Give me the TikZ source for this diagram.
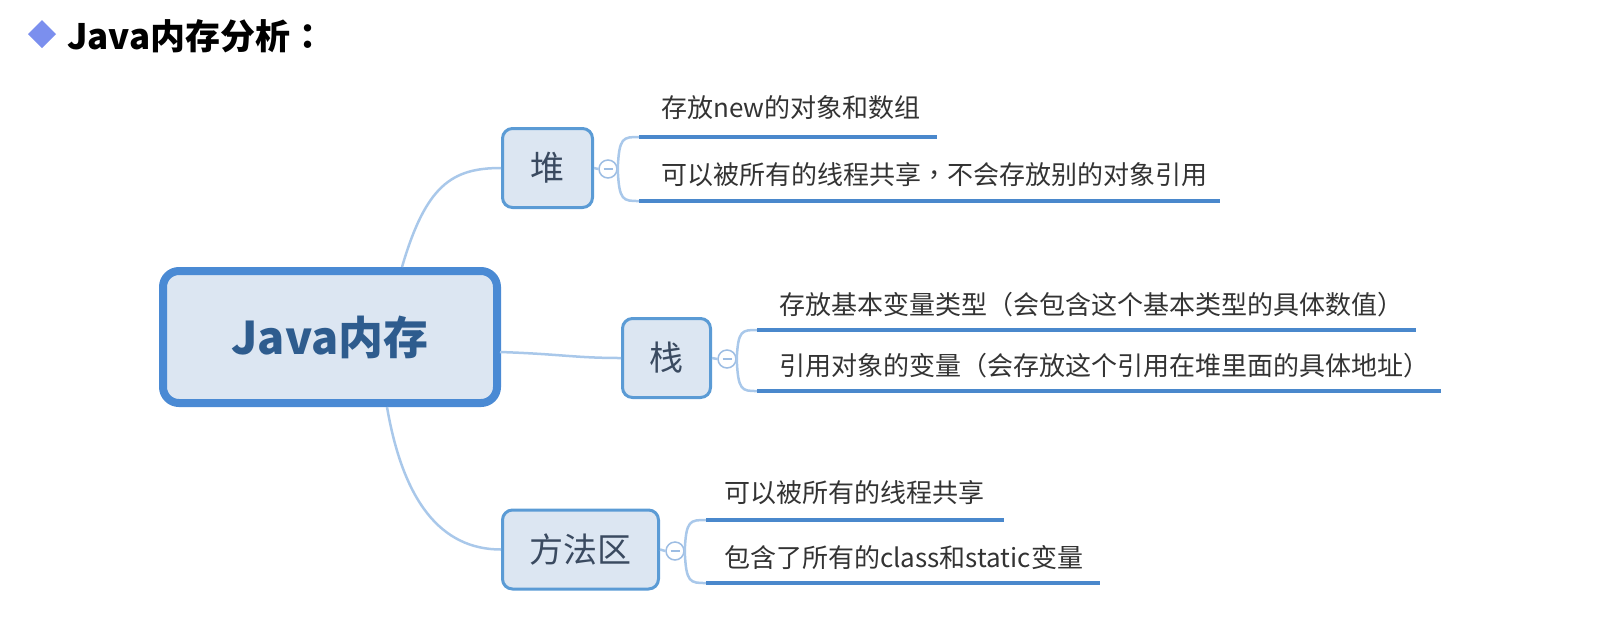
\documentclass[tikz,border=0pt]{standalone}
\usepackage{fontspec}
\setmainfont{Noto Sans CJK SC}
\newfontfamily\tcp{Noto Sans CJK TC}
\definecolor{conn}{HTML}{A9C8EA}
\definecolor{uline}{HTML}{4A88CC}
\definecolor{bord}{HTML}{5B9BD5}
\definecolor{fillc}{HTML}{DCE6F2}
\definecolor{rootb}{HTML}{4A8AD4}
\definecolor{roott}{HTML}{2E5C8E}
\definecolor{boxt}{HTML}{3A4A60}
\definecolor{leaft}{HTML}{333333}
\definecolor{diam}{HTML}{7B8FEE}
\definecolor{circc}{HTML}{9DBDE3}
\tikzset{
  rootbox/.style={draw=rootb, line width=8pt, fill=fillc, rounded corners=16pt,
    minimum width=334pt, minimum height=132pt, inner sep=0pt,
    text=roott, font=\fontsize{45}{50}\selectfont\bfseries},
  subbox/.style={draw=bord, line width=3pt, fill=fillc, rounded corners=10pt,
    minimum height=79pt, inner sep=0pt, text=boxt, font=\fontsize{34}{40}\selectfont},
  leaf/.style={anchor=west, inner sep=0pt, text=leaft, font=\fontsize{26}{30}\selectfont},
  toggle/.style={circle, draw=circc, line width=1.5pt, fill=white, minimum size=18pt, inner sep=0pt},
  branch/.style={draw=conn, line width=2.5pt},
  underl/.style={draw=uline, line width=4.5pt},
}
\begin{document}
\begin{tikzpicture}[x=1pt, y=-1pt]
\useasboundingbox (0,0) rectangle (1611,625);
% title
\fill[diam] (42,20) -- (56,34) -- (42,48) -- (28,34) -- cycle;
\node[anchor=west, inner sep=0pt, font=\fontsize{35}{40}\selectfont\bfseries] (title) at (67,36) {Java内存分析{\tcp ：}};
% root
\node[rootbox] (root) at (330,337) {Java内存};
% sub boxes
\node[subbox, minimum width=90pt] (heap) at (547.5,168) {堆};
\node[subbox, minimum width=88pt] (stack) at (666.5,358) {栈};
\node[subbox, minimum width=156pt] (meth) at (580.5,549.5) {方法区};
% root connectors
\coordinate (r1) at (402,267);
\coordinate (r2) at (500,352);
\coordinate (r3) at (387,407);
\draw[branch] (r1) .. controls (426,185) and (452,168) .. (heap.west);
\draw[branch] (r2) .. controls (560,354) and (575,358) .. (stack.west);
\draw[branch] (r3) .. controls (403,500) and (440,549.5) .. (meth.west);
% toggles
\node[toggle] (th) at (608,169) {};
\node[toggle] (ts) at (727,359) {};
\node[toggle] (tm) at (675,551) {};
\foreach \t in {th,ts,tm}{\draw[circc, line width=1.3pt] ([xshift=-4.5pt]\t.center) -- ([xshift=4.5pt]\t.center);}
\draw[branch] (heap.east) -- (th.west);
\draw[branch] (stack.east) -- (ts.west);
\draw[branch] (meth.east) -- (tm.west);
% line coordinates
\coordinate (h1a) at (639,137); \coordinate (h1b) at (937,137);
\coordinate (h2a) at (639,201); \coordinate (h2b) at (1220,201);
\coordinate (s1a) at (757,330); \coordinate (s1b) at (1416,330);
\coordinate (s2a) at (757,391); \coordinate (s2b) at (1441,391);
\coordinate (m1a) at (706,520); \coordinate (m1b) at (1004,520);
\coordinate (m2a) at (706,583); \coordinate (m2b) at (1100,583);
% brackets
\draw[branch] (th.east) .. controls (619,137) and (623,137) .. (h1a);
\draw[branch] (th.east) .. controls (619,201) and (623,201) .. (h2a);
\draw[branch] (ts.east) .. controls (738,330) and (742,330) .. (s1a);
\draw[branch] (ts.east) .. controls (738,391) and (742,391) .. (s2a);
\draw[branch] (tm.east) .. controls (686,520) and (690,520) .. (m1a);
\draw[branch] (tm.east) .. controls (686,583) and (690,583) .. (m2a);
% underlines
\draw[underl] (h1a) -- (h1b);
\draw[underl] (h2a) -- (h2b);
\draw[underl] (s1a) -- (s1b);
\draw[underl] (s2a) -- (s2b);
\draw[underl] (m1a) -- (m1b);
\draw[underl] (m2a) -- (m2b);
% leaf texts
\node[leaf] (h1) at (661,108) {存放new的对象和数组};
\node[leaf] (h2) at (661,175) {可以被所有的线程共享{\tcp ，}不会存放别的对象引用};
\node[leaf] (s1) at (779,305) {存放基本变量类型{\tcp （}会包含这个基本类型的具体数值{\tcp ）}};
\node[leaf] (s2) at (779,366) {引用对象的变量{\tcp （}会存放这个引用在堆里面的具体地址{\tcp ）}};
\node[leaf] (m1) at (724,493) {可以被所有的线程共享};
\node[leaf] (m2) at (724,558) {包含了所有的class和static变量};
\end{tikzpicture}
\end{document}
